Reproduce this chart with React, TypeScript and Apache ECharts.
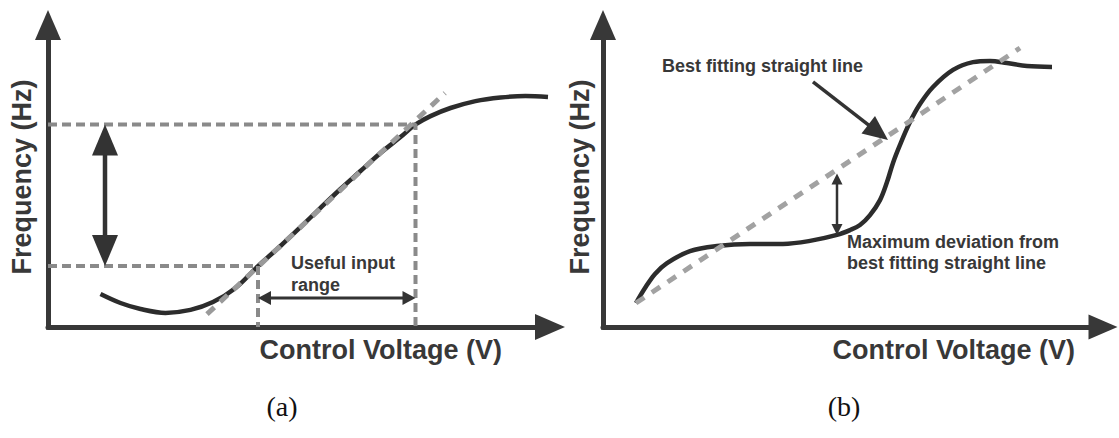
import React, { useEffect, useRef } from "react";
import * as echarts from "echarts";

// ---- Panel (a): VCO transfer curve with its useful input range ----
const voltageA = [1.05, 1.45, 1.85, 2.35, 2.85, 3.3, 3.75, 4.2, 4.65, 5.05, 5.45, 5.85, 6.25, 6.65, 7.05, 7.35, 7.65, 8.05, 8.55, 9.05, 9.55, 10];
const frequencyA = [1.1, 0.8, 0.6, 0.47, 0.57, 0.83, 1.3, 2.03, 2.7, 3.33, 3.97, 4.6, 5.2, 5.8, 6.33, 6.75, 7.03, 7.3, 7.53, 7.65, 7.7, 7.67];
const tangentA = [[3.18, 0.43], [7.94, 7.8]];
const inputRange = [4.2, 7.35]; // control voltage limits
const outputRange = [2.03, 6.75]; // matching frequency limits
const freqArrowX = 1.14;
const rangeArrowY = 0.97;

// ---- Panel (b): non-linear curve against its best fitting straight line ----
const voltageB = [0.66, 0.84, 1.04, 1.28, 1.74, 2.28, 2.94, 3.6, 4.14, 4.68, 4.94, 5.14, 5.34, 5.54, 5.68, 5.8, 5.94, 6.14, 6.34, 6.6, 7.0, 7.4, 7.74, 8.08, 8.48, 8.98];
const frequencyB = [0.8, 1.3, 1.77, 2.13, 2.53, 2.7, 2.77, 2.77, 2.87, 3.07, 3.23, 3.4, 3.73, 4.23, 4.83, 5.47, 6.07, 6.83, 7.43, 8.0, 8.57, 8.83, 8.87, 8.8, 8.7, 8.67];
const bestFitB = [[0.66, 0.8], [8.34, 9.3]];
const pointerB = [4.2, 8.17, 5.7, 6.23];
const deviationX = 4.68;
const deviationSpan = [3.07, 5.12];

const AXIS_COLOR = "#383838";
const CURVE_COLOR = "#2c2c2c";
const TEXT_COLOR = "#383838";
const SANS = '"Liberation Sans", Arial, Helvetica, sans-serif';
const SERIF = '"Liberation Serif", "Times New Roman", serif';

const zip = (xs: number[], ys: number[]) => xs.map((x, i) => [x, ys[i]]);

type ArrowStyle = { headLen: number; headWidth: number; lineWidth: number; double: boolean; color: string };

function arrowSeries(name: string, grid: number, segment: number[], st: ArrowStyle) {
  return {
    type: "custom",
    name,
    xAxisIndex: grid,
    yAxisIndex: grid,
    silent: true,
    clip: false,
    z: 5,
    data: [segment],
    encode: { x: [0, 2], y: [1, 3] },
    renderItem: (_params: any, api: any) => {
      const a = api.coord([api.value(0), api.value(1)]);
      const b = api.coord([api.value(2), api.value(3)]);
      const dx = b[0] - a[0];
      const dy = b[1] - a[1];
      const len = Math.hypot(dx, dy) || 1;
      const ux = dx / len;
      const uy = dy / len;
      const nx = -uy;
      const ny = ux;
      const hw = st.headWidth / 2;
      const head = (tip: number[], dirX: number, dirY: number) => {
        const bx = tip[0] - dirX * st.headLen;
        const by = tip[1] - dirY * st.headLen;
        return {
          type: "polygon",
          shape: { points: [[tip[0], tip[1]], [bx + nx * hw, by + ny * hw], [bx - nx * hw, by - ny * hw]] },
          style: { fill: st.color },
        };
      };
      const inset = st.headLen - 1;
      const start = st.double ? [a[0] + ux * inset, a[1] + uy * inset] : a;
      const end = [b[0] - ux * inset, b[1] - uy * inset];
      const children: any[] = [
        {
          type: "line",
          shape: { x1: start[0], y1: start[1], x2: end[0], y2: end[1] },
          style: { stroke: st.color, lineWidth: st.lineWidth },
        },
        head(b, ux, uy),
      ];
      if (st.double) children.push(head(a, -ux, -uy));
      return { type: "group", children };
    },
  };
}

function axisPair(grid: number, xArrow: number[], xOffset: number, nameGap: number, yNameGap: number) {
  const x = {
    type: "value",
    gridIndex: grid,
    min: 0,
    max: 10,
    name: "Control Voltage (V)",
    nameLocation: "end",
    nameGap,
    nameTextStyle: {
      fontFamily: SANS,
      fontSize: 27,
      fontWeight: "bold",
      color: TEXT_COLOR,
      align: "right",
      verticalAlign: "top",
      lineHeight: 46,
    },
    axisLine: {
      show: true,
      symbol: ["none", "triangle"],
      symbolSize: xArrow,
      symbolOffset: [0, xOffset],
      lineStyle: { color: AXIS_COLOR, width: 5 },
    },
    axisTick: { show: false },
    axisLabel: { show: false },
    splitLine: { show: false },
  };
  const y = {
    type: "value",
    gridIndex: grid,
    min: 0,
    max: 10,
    name: "Frequency (Hz)",
    nameLocation: "middle",
    nameGap: yNameGap,
    nameTextStyle: { fontFamily: SANS, fontSize: 27, fontWeight: "bold", color: TEXT_COLOR },
    axisLine: {
      show: true,
      symbol: ["none", "triangle"],
      symbolSize: [26, 30],
      symbolOffset: [0, 2],
      lineStyle: { color: AXIS_COLOR, width: 5, cap: "square" },
    },
    axisTick: { show: false },
    axisLabel: { show: false },
    splitLine: { show: false },
  };
  return { x, y };
}

const note = (x: number, y: number, text: string, valign: string, lineHeight: number) => ({
  type: "text",
  x,
  y,
  style: {
    text,
    fontFamily: SANS,
    fontSize: 18,
    fontWeight: "bold",
    lineHeight,
    fill: TEXT_COLOR,
    textAlign: "left",
    textVerticalAlign: valign,
  },
});

const panelTag = (x: number, text: string) => ({
  type: "text",
  x,
  y: 406,
  style: {
    text,
    fontFamily: SERIF,
    fontSize: 28,
    fill: "#111111",
    textAlign: "center",
    textVerticalAlign: "middle",
  },
});

export default function App() {
  const ref = useRef<HTMLDivElement>(null);

  useEffect(() => {
    if (!ref.current) return;
    const chart = echarts.init(ref.current, undefined, { renderer: "svg" });
    const axA = axisPair(0, [26, 30], 2, -46, 13);
    const axB = axisPair(1, [25, 29], 0, -28, 10);

    const dashed = (w: number, dash: number[], color: string) => ({ color, width: w, type: dash });

    chart.setOption({
      animation: false,
      backgroundColor: "#ffffff",
      grid: [
        { left: 48, top: 27, width: 500, height: 300 },
        { left: 603, top: 27, width: 500, height: 300 },
      ],
      xAxis: [axA.x, axB.x],
      yAxis: [axA.y, axB.y],
      series: [
        {
          type: "line",
          name: "Transfer curve (a)",
          xAxisIndex: 0,
          yAxisIndex: 0,
          data: zip(voltageA, frequencyA),
          smooth: 0.35,
          showSymbol: false,
          clip: false,
          lineStyle: { color: CURVE_COLOR, width: 4.5 },
          z: 2,
        },
        {
          type: "line",
          name: "Upper limit",
          xAxisIndex: 0,
          yAxisIndex: 0,
          data: [[0, outputRange[1]], [inputRange[1], outputRange[1]], [inputRange[1], 0]],
          showSymbol: false,
          lineStyle: dashed(4, [9, 5], "#8a8a8a"),
          z: 3,
        },
        {
          type: "line",
          name: "Lower limit",
          xAxisIndex: 0,
          yAxisIndex: 0,
          data: [[0, outputRange[0]], [inputRange[0], outputRange[0]], [inputRange[0], 0]],
          showSymbol: false,
          lineStyle: dashed(4, [9, 5], "#8a8a8a"),
          z: 3,
        },
        {
          type: "line",
          name: "Tangent (a)",
          xAxisIndex: 0,
          yAxisIndex: 0,
          data: tangentA,
          showSymbol: false,
          lineStyle: dashed(5, [10, 8], "#9a9a9a"),
          z: 3,
        },
        arrowSeries("Frequency span", 0, [freqArrowX, outputRange[0], freqArrowX, outputRange[1]], {
          headLen: 31, headWidth: 26, lineWidth: 4.5, double: true, color: "#333333",
        }),
        arrowSeries("Input span", 0, [inputRange[0], rangeArrowY, inputRange[1], rangeArrowY], {
          headLen: 13, headWidth: 14, lineWidth: 3, double: true, color: "#333333",
        }),
        {
          type: "line",
          name: "Transfer curve (b)",
          xAxisIndex: 1,
          yAxisIndex: 1,
          data: zip(voltageB, frequencyB),
          smooth: 0.35,
          showSymbol: false,
          clip: false,
          lineStyle: { color: CURVE_COLOR, width: 4.5 },
          z: 2,
        },
        {
          type: "line",
          name: "Best fit (b)",
          xAxisIndex: 1,
          yAxisIndex: 1,
          data: bestFitB,
          showSymbol: false,
          lineStyle: dashed(5, [10, 9], "#a2a2a2"),
          z: 3,
        },
        arrowSeries("Pointer", 1, pointerB, {
          headLen: 25, headWidth: 22, lineWidth: 3.5, double: false, color: "#333333",
        }),
        arrowSeries("Deviation", 1, [deviationX, deviationSpan[0], deviationX, deviationSpan[1]], {
          headLen: 11, headWidth: 11, lineWidth: 2.5, double: true, color: "#333333",
        }),
      ],
      graphic: [
        note(291, 252, "Useful input\nrange", "top", 22),
        note(662, 66, "Best fitting straight line", "middle", 22),
        note(847, 231, "Maximum deviation from\nbest fitting straight line", "top", 21),
        panelTag(282, "(a)"),
        panelTag(844, "(b)"),
      ],
    });

    return () => chart.dispose();
  }, []);

  return (
    <div
      ref={ref}
      style={{ position: "fixed", left: 0, top: 0, width: 1119, height: 438, background: "#ffffff" }}
    />
  );
}
